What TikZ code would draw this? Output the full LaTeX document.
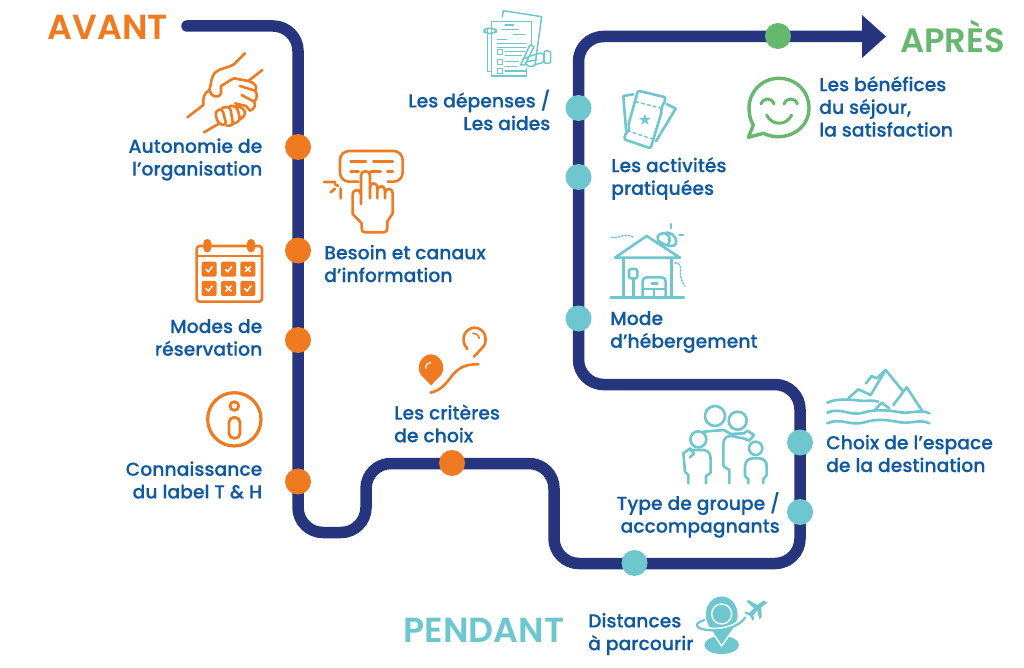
\documentclass[tikz,border=0pt]{standalone}
\usepackage{fontspec}
\setmainfont{Poppins}
\newfontfamily\popm[FakeBold=0.2]{Poppins Medium}
\newfontfamily\pops{Poppins SemiBold}
\usetikzlibrary{arrows.meta}
\definecolor{navy}{HTML}{27357E}
\definecolor{org}{HTML}{F07A1F}
\definecolor{teal2}{HTML}{6EC6CF}
\definecolor{grn}{HTML}{65B86D}
\definecolor{lab}{HTML}{0F5AA3}
\tikzset{
  lbl/.style={text=lab,inner sep=0pt,font=\popm\fontsize{18.8}{22.7}\selectfont},
  lblR/.style={lbl,anchor=east,align=right},
  lblL/.style={lbl,anchor=west,align=left},
  head/.style={inner sep=0pt,anchor=west,font=\pops\fontsize{34.8}{36}\selectfont},
  dot/.style={circle,minimum size=26pt,inner sep=0pt,fill=#1},
  route/.style={draw=navy,line width=11.5pt,rounded corners=25pt,line cap=round},
  zm/.style={shift={(#1)},x=0.33333pt,y=-0.33333pt},
  ic/.style={draw=#1,line cap=round,line join=round,line width=2.6pt,fill=none},
  thin/.style={draw=#1,line cap=round,line join=round,line width=1.4pt,fill=none},
}
\begin{document}
\begin{tikzpicture}[x=1pt,y=-1pt]
\useasboundingbox (0,0) rectangle (1024,668);
\fill[white] (0,0) rectangle (1024,668);
% route
\coordinate (r0) at (187,26);
\coordinate (r1) at (298,26);
\coordinate (r2) at (298,532.5);
\coordinate (r3) at (366,532.5);
\coordinate (r4) at (366,463.5);
\coordinate (r5) at (554,463.5);
\coordinate (r6) at (554,563.5);
\coordinate (r7) at (800,563.5);
\coordinate (r8) at (800,384.5);
\coordinate (r9) at (578.5,384.5);
\coordinate (r10) at (578.5,36.5);
\coordinate (r11) at (886,36.5);
\draw[route] (r0) -- (r1) -- (r2) -- (r3) -- (r4) -- (r5) -- (r6) -- (r7) -- (r8) -- (r9) -- (r10) -- (863,36.5);
\fill[navy] (862,15) -- (r11) -- (862,58) -- cycle;
% dots
\node[dot=org] (d1) at (298,147) {};
\node[dot=org] (d2) at (298,250.5) {};
\node[dot=org] (d3) at (298,340) {};
\node[dot=org] (d4) at (298,481.5) {};
\node[dot=org] (d5) at (452,463) {};
\node[dot=teal2] (d6) at (634.5,563) {};
\node[dot=teal2] (d7) at (800,512) {};
\node[dot=teal2] (d8) at (800,442.5) {};
\node[dot=teal2] (d9) at (578.5,318.5) {};
\node[dot=teal2] (d10) at (578.5,177) {};
\node[dot=teal2] (d11) at (578.5,108) {};
\node[dot=grn] (d12) at (778,36) {};
% headings
\node[head,text=org] (avant) at (47.5,27) {AVANT};
\node[head,text=teal2] (pendant) at (403.5,630) {PENDANT};
\node[head,text=grn,font=\pops\fontsize{33.8}{36}\selectfont] (apres) at (900,36) {APRÈS};
% labels
\node[lblR] (l1) at (262.5,159.5) {Autonomie de\\l’organisation};
\node[lblL] (l2) at (324,263.5) {Besoin et canaux\\d’information};
\node[lblR] (l3) at (262.5,337.5) {Modes de\\réservation};
\node[lblR] (l4) at (262.5,480) {Connaissance\\du label T \& H};
\node[lblL] (l5) at (394,423.5) {Les critères\\de choix};
\node[lblR] (l6) at (550.5,110) {Les dépenses /\\Les aides};
\node[lblL] (l7) at (611,178.5) {Les activités\\pratiquées};
\node[lblL] (l8) at (610,332) {Mode\\d’hébergement};
\node[lblL] (l9) at (819,106.5) {Les bénéfices\\du séjour,\\la satisfaction};
\node[lblL] (l10) at (826,453.5) {Choix de l’espace\\de la destination};
\node[lblR] (l11) at (780,515) {Type de groupe /\\accompagnants};
\node[lblL] (l12) at (588,634) {Distances\\à parcourir};
% handshake
\begin{scope}[zm={120,0}]
\draw[ic=org] (375,160) -- (342,193) .. controls (325,205) and (300,203) .. (285,218) .. controls (272,232) and (275,250) .. (268,270) .. controls (255,278) and (248,290) .. (250,315) -- (202,352);
\draw[ic=org] (268,270) .. controls (272,290) and (295,298) .. (303,280) -- (303,258) .. controls (318,250) and (330,240) .. (342,235) -- (385,243) -- (427,210);
\draw[ic=org] (385,243) .. controls (410,250) and (412,265) .. (405,272) .. controls (415,285) and (410,298) .. (402,305) .. controls (410,318) and (400,328) .. (390,332) -- (378,318) -- (345,310);
\draw[ic=org] (360,258) -- (405,272); \draw[ic=org] (365,285) -- (402,305);
\draw[ic=org] (252,397) -- (295,372);
\draw[ic=org,rounded corners=4pt] (295,372) -- (284,335) -- (306,324) -- (320,377) -- cycle;
\draw[ic=org,rounded corners=4pt] (306,324) -- (330,318) -- (340,378) -- (320,377);
\draw[ic=org,rounded corners=4pt] (330,318) -- (350,318) -- (362,362) -- (338,372);
\draw[ic=org,rounded corners=4pt] (350,318) -- (372,325) -- (378,345) -- (360,358);
% tap icon
\draw[ic=org,rounded corners=9pt] (660,453) rectangle (848,545);
\fill[white] (716,522) rectangle (800,560);
\draw[ic=org] (692,484) -- (738,484) (760,484) -- (818,484) (692,515) -- (716,515) (752,515) -- (782,515) (802,515) -- (818,515);
\draw[ic=org] (723,612) -- (723,525) .. controls (723,510) and (750,510) .. (750,525) -- (750,595);
\draw[ic=org] (750,565) .. controls (750,545) and (772,545) .. (772,565) -- (772,595);
\draw[ic=org] (772,570) .. controls (775,555) and (795,555) .. (795,572) -- (795,595);
\draw[ic=org] (795,578) .. controls (800,560) and (818,565) .. (818,580) -- (818,640) -- (802,665) -- (802,685) .. controls (802,692) and (798,697) .. (792,697) -- (735,697) .. controls (728,697) and (725,692) .. (725,685) -- (725,670) -- (698,642) -- (698,585) .. controls (698,565) and (723,565) .. (723,585);
\draw[ic=org] (612,546) -- (645,546) (632,577) -- (645,566) (662,565) -- (662,595) (645,553) -- (655,558);
% calendar
\draw[ic=org,rounded corners=3pt] (230,738) rectangle (426,905);
\draw[ic=org] (230,768) -- (426,768);
\fill[org,rounded corners=4pt] (250,717) rectangle (274,757);
\fill[org,rounded corners=4pt] (381,717) rectangle (405,757);
\foreach \cx in {245,303,361}\foreach \cy in {785,843}{\fill[org,rounded corners=2pt] (\cx,\cy) rectangle ++(45,45);}
\foreach \cx/\cy in {245/785,303/785,245/843,361/843}{\draw[white,line width=1.5pt,line cap=round] (\cx+13,\cy+23) -- (\cx+20,\cy+30) -- (\cx+32,\cy+15);}
\foreach \cx/\cy in {361/785,303/843}{\draw[white,line width=1.5pt,line cap=round] (\cx+15,\cy+15) -- (\cx+30,\cy+30) (\cx+30,\cy+15) -- (\cx+15,\cy+30);}
\end{scope}
% info + pin
\begin{scope}[zm={120,300}]
\draw[ic=org,line width=3.2pt] (343,358) circle (80);
\draw[ic=org,line width=2.8pt] (343,318) circle (13);
\draw[ic=org,line width=2.8pt,rounded corners=5pt] (327,352) rectangle (360,415);
\fill[org] (933,256) -- (903,225) .. controls (885,200) and (905,163) .. (933,163) .. controls (961,163) and (981,200) .. (963,225) -- cycle;
\draw[white,line width=1.2pt,line cap=round] (917,205) .. controls (917,195) and (923,188) .. (932,187);
\draw[ic=org] (1042,147) .. controls (1015,115) and (1040,83) .. (1063,83) .. controls (1095,83) and (1105,120) .. (1090,140) -- (1062,170);
\draw[ic=org,line width=1.6pt] (1058,100) .. controls (1068,100) and (1075,105) .. (1078,115);
\draw[ic=org] (932,278) .. controls (1000,262) and (985,190) .. (1075,193);
\end{scope}
% documents
\begin{scope}[zm={400,0}]
\draw[thin=teal2,line width=1.5pt] (307,50) -- (310,32) -- (425,50) -- (405,195);
\draw[thin=teal2,line width=1.5pt] (263,85) -- (263,215) -- (275,215);
\draw[thin=teal2,line width=1.5pt] (275,65) -- (395,65) -- (395,135);
\draw[thin=teal2,line width=1.5pt] (275,65) -- (275,228) -- (380,228) -- (380,205);
\draw[thin=teal2,line width=1.5pt,rounded corners=4pt] (252,85) rectangle (288,100);
\draw[thin=teal2] (315,75) -- (340,75) (305,88) -- (355,88) (340,103) -- (375,103) (292,118) -- (320,118) (292,130) -- (378,130) (292,143) -- (378,143) (315,155) -- (375,155) (315,167) -- (365,167) (315,185) -- (355,185) (315,200) -- (350,200) (315,213) -- (378,213);
\foreach \cy in {148,178,205}{\draw[thin=teal2] (292,\cy) rectangle ++(15,15);}
\draw[thin=teal2,line width=1.5pt,fill=white] (362,195) -- (390,135) -- (402,140) -- (375,195) -- cycle;
\draw[thin=teal2,line width=1.5pt,rounded corners=3pt] (400,165) -- (430,157) -- (432,188) -- (408,192) -- (392,203) -- (375,190) (368,178) -- (400,165) (380,185) -- (410,180);
\draw[thin=teal2,line width=1.5pt,rounded corners=2pt] (432,153) rectangle (452,190);
% tickets
\draw[ic=teal2,rounded corners=2pt] (714,272) -- (797,292) -- (792,312) .. controls (786,318) and (784,325) .. (786,332) -- (752,445) -- (672,418) -- (678,398) .. controls (686,392) and (688,384) .. (684,378) -- cycle;
\draw[thin=teal2,dashed] (707,305) -- (785,325);
\draw[thin=teal2,dashed] (682,392) -- (760,418);
\node[teal2,inner sep=0pt,font=\fontspec{DejaVu Sans}\fontsize{16}{16}\selectfont] (star) at (735,360) {★};
\draw[ic=teal2] (700,283) -- (670,288) -- (678,390);
\draw[ic=teal2] (800,312) -- (827,326) -- (768,424);
\end{scope}
% house
\begin{scope}[zm={600,220}]
\draw[ic=teal2] (45,113) -- (140,48) -- (240,113) -- cycle;
\draw[ic=teal2] (70,113) -- (70,233) (215,113) -- (215,233) (32,233) -- (252,233);
\draw[ic=teal2,rounded corners=2pt] (87,147) rectangle (112,175);
\draw[ic=teal2] (100,175) -- (100,233);
\draw[ic=teal2,rounded corners=4pt] (128,233) -- (128,172) -- (197,172) -- (197,233);
\draw[ic=teal2] (128,207) -- (197,207) (162,207) -- (162,233) (155,190) -- (172,190);
\draw[ic=teal2,fill=white] (183,68) .. controls (165,60) and (172,38) .. (190,40) .. controls (205,32) and (232,45) .. (228,70) .. controls (225,82) and (205,80) .. (183,68);
\draw[ic=teal2] (195,40) .. controls (210,45) and (212,60) .. (205,72);
\draw[ic=teal2] (213,12) -- (213,24) (238,45) -- (250,45);
\draw[thin=teal2,dotted,line width=1.6pt] (35,52) .. controls (50,58) and (80,35) .. (100,52);
\draw[thin=teal2,dotted,line width=1.6pt] (225,128) .. controls (260,135) and (225,160) .. (255,198);
\end{scope}
% smile
\begin{scope}[zm={720,0}]
\draw[ic=grn,line width=3.4pt] (100,375) -- (85,412) -- (130,400) .. controls (195,430) and (267,390) .. (267,325) .. controls (267,270) and (225,235) .. (177,235) .. controls (125,235) and (87,275) .. (87,325) .. controls (87,345) and (92,362) .. (100,375) -- cycle;
\draw[ic=grn,line width=3pt] (123,312) .. controls (130,292) and (155,292) .. (162,312);
\draw[ic=grn,line width=3pt] (192,312) .. controls (200,292) and (225,292) .. (232,312);
\draw[ic=grn,line width=3pt] (140,345) .. controls (155,378) and (200,378) .. (215,345);
\end{scope}
% mountains, family, pin
\begin{scope}[zm={600,360}]
\draw[ic=teal2] (682,128) .. controls (710,115) and (745,118) .. (780,122) .. controls (800,125) and (815,118) .. (835,125);
\draw[ic=teal2] (682,158) .. controls (720,140) and (750,170) .. (790,158) .. controls (820,148) and (860,150) .. (890,155) .. controls (930,165) and (960,145) .. (988,160);
\draw[ic=teal2] (682,190) .. controls (720,172) and (750,198) .. (790,188) .. controls (830,175) and (860,180) .. (890,185) .. controls (930,195) and (960,175) .. (988,190);
\draw[ic=teal2] (745,115) -- (775,88) -- (812,105) -- (857,30) -- (910,95);
\draw[ic=teal2] (798,70) -- (815,48) -- (830,55) -- (857,30);
\draw[ic=teal2] (880,135) -- (920,82) -- (965,150);
\draw[ic=teal2] (825,150) -- (845,128) -- (868,145);
% family
\draw[ic=teal2] (345,168) circle (30);
\draw[ic=teal2] (413,182) circle (27);
\draw[ic=teal2] (295,238) circle (24);
\draw[ic=teal2] (467,265) circle (20);
\draw[ic=teal2] (310,215) -- (372,210) -- (392,222) -- (432,220) -- (442,212) -- (462,225) -- (448,242) -- (430,235) -- (392,228) .. controls (375,228) and (370,240) .. (370,255) -- (370,318) -- (388,330) -- (388,370);
\draw[ic=teal2] (265,370) -- (265,345) -- (255,335) -- (250,280) -- (270,265) -- (282,280) -- (270,292);
\draw[ic=teal2] (270,270) -- (312,270) .. controls (328,272) and (332,285) .. (332,300) -- (332,338) -- (318,348) -- (318,370);
\draw[ic=teal2] (445,370) -- (445,358) -- (435,348) -- (435,318) .. controls (437,300) and (447,295) .. (460,295) -- (480,295) .. controls (495,297) and (500,308) .. (500,320) -- (500,345) -- (490,358) -- (490,370);
% distance pin
\fill[teal2] (365,855) ellipse (52 and 27);
\fill[teal2,draw=white,line width=1.4pt] (365,858) -- (325,800) .. controls (300,755) and (325,707) .. (365,707) .. controls (405,707) and (430,755) .. (405,800) -- cycle;
\draw[white,line width=1.4pt] (365,762) circle (30);
\draw[white,line width=2pt] (318,803) .. controls (360,812) and (400,800) .. (430,775);
\draw[teal2,line width=2.2pt,line cap=round] (313,780) .. controls (280,790) and (285,805) .. (320,810) .. controls (360,815) and (400,805) .. (425,785);
\draw[teal2,line width=2.2pt,line cap=round] (425,785) -- (436,772);
\fill[teal2] (503,727) -- (490,722) -- (472,735) -- (445,720) -- (440,725) -- (462,745) -- (448,758) -- (436,755) -- (434,760) -- (450,768) -- (458,782) -- (462,778) -- (460,765) -- (472,752) -- (478,778) -- (485,772) -- (484,742) -- cycle;
\end{scope}
\end{tikzpicture}
\end{document}
